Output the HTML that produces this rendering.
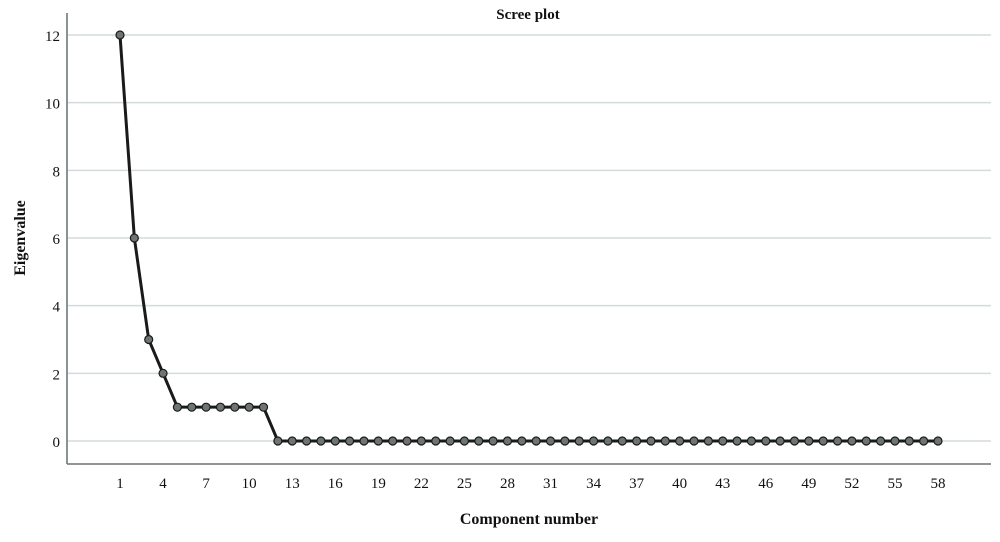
<!DOCTYPE html>
<html><head><meta charset="utf-8"><style>
html,body{margin:0;padding:0;background:#fff;}
text{font-family:"Liberation Serif",serif;fill:#111;}
</style></head><body>
<svg id="chart" width="1000" height="537" xmlns="http://www.w3.org/2000/svg">
<text x="528" y="19" font-size="15" font-weight="bold" text-anchor="middle">Scree plot</text>
<g id="grid"></g>
<line x1="67" y1="13" x2="67" y2="464" stroke="#8a9494" stroke-width="2"/>
<line x1="67" y1="464" x2="991" y2="464" stroke="#6a7474" stroke-width="1.5"/>
<g id="yt"></g><g id="xt"></g><g id="series"></g>
<text transform="translate(25,238) rotate(-90)" font-size="16" font-weight="bold" text-anchor="middle">Eigenvalue</text>
<text x="529" y="524" font-size="16" font-weight="bold" text-anchor="middle">Component number</text>
</svg>
<script>
const yTicks=[0,2,4,6,8,10,12];
const xTicks=[1,4,7,10,13,16,19,22,25,28,31,34,37,40,43,46,49,52,55,58];
const components=[];for(let i=1;i<=58;i++)components.push(i);
const eigenvalues=[12,6,3,2,1,1,1,1,1,1,1].concat(new Array(47).fill(0));
const ns="http://www.w3.org/2000/svg";
const X=c=>120+(c-1)*(818/57);
const Y=v=>441-v*(406/12);
function mk(t,a,p){const e=document.createElementNS(ns,t);for(const k in a)e.setAttribute(k,a[k]);p.appendChild(e);return e;}
const g=document.getElementById('grid'),yt=document.getElementById('yt'),xt=document.getElementById('xt'),s=document.getElementById('series');
yTicks.forEach(v=>{
 const l=mk('line',{x1:68,x2:991,y1:Y(v),y2:Y(v),stroke:'#d3dcdc','stroke-width':1.5},g);
 
 
 const t=mk('text',{x:60,y:Y(v)+6,'font-size':15,'text-anchor':'end'},yt);t.textContent=v;
 
 
});
xTicks.forEach(c=>{
 const t=mk('text',{x:X(c),y:488,'font-size':15,'text-anchor':'middle'},xt);t.textContent=c;
 
 
});
const pl=mk('polyline',{points:components.map((c,i)=>X(c)+','+Y(eigenvalues[i])).join(' '),fill:'none',stroke:'#1a1a1a','stroke-width':3},s);


components.forEach((c,i)=>{
 const p=mk('circle',{cx:X(c),cy:Y(eigenvalues[i]),r:4,fill:'#6e7373',stroke:'#1a1a1a','stroke-width':1.2},s);
 
 
});
</script>
</body></html>
